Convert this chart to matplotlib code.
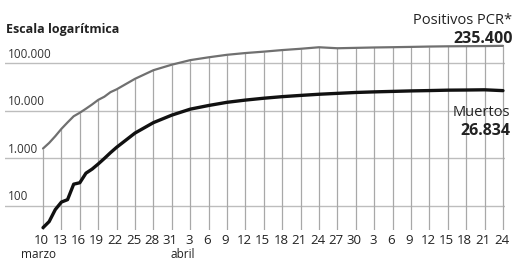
import numpy as np
import matplotlib.pyplot as plt

# days counted from 10 March
days = [0, 1, 2, 3, 4, 5, 6, 7, 8, 9, 10, 11, 12,
        15, 18, 21, 24, 27, 30, 33, 36, 39, 42, 45, 48,
        51, 54, 57, 60, 63, 66, 69, 72, 75]

positivos = [1622, 2128, 2950, 4209, 5753, 7753, 9191, 11178, 13716, 17147, 19980, 24926, 28572,
             47610, 72248, 94417, 117710, 135032, 152446, 166019, 177633, 191726, 204178, 219764, 209465,
             213435, 217466, 220325, 223578, 227436, 230183, 231606, 233037, 235400]

muertos = [35, 47, 84, 121, 136, 288, 309, 491, 598, 767, 1002, 1326, 1720,
           3434, 5690, 8189, 10935, 13055, 15238, 16972, 18579, 20043, 21282, 22524, 23521,
           24543, 25264, 25857, 26478, 26920, 27459, 27650, 27940, 26834]

tick_days = list(range(0, 76, 3))
tick_labels = ["10", "13", "16", "19", "22", "25", "28", "31",
               "3", "6", "9", "12", "15", "18", "21", "24", "27", "30",
               "3", "6", "9", "12", "15", "18", "21", "24"]

y_ticks = [100, 1000, 10000, 100000]
y_labels = ["100", "1.000", "10.000", "100.000"]

plt.rcParams["font.family"] = ["Open Sans", "DejaVu Sans"]

W, H = 516, 260
fig = plt.figure(figsize=(W / 100, H / 100), dpi=100)

# axes placed in pixel terms: x 5..505, y 35..230 from top
ax = fig.add_axes([5 / W, 30 / H, 500 / W, 195 / H])
ax.set_yscale("log")
ax.set_xlim(-6.2, 75.33)
ax.set_ylim(10 ** 1.4947, 10 ** 5.6)
for s in ax.spines.values():
    s.set_visible(False)
ax.set_xticks([])
ax.set_yticks([])
ax.minorticks_off()

# horizontal grid
for v, lab in zip(y_ticks, y_labels):
    ax.axhline(v, color="#bdbdbd", lw=1.0, zorder=1)
    ax.annotate(lab, xy=(-5.8, v), xytext=(0, 2), textcoords="offset points",
                ha="left", va="bottom", fontsize=8.5, color="#333333")

# vertical lines from the bottom up to the positivos curve
tops = 10 ** np.interp(tick_days, days, np.log10(positivos))
ax.vlines(tick_days, ax.get_ylim()[0], tops, color="#a8a8a8", lw=0.9, zorder=1)

ax.plot(days, positivos, color="#707070", lw=1.6, zorder=3, solid_capstyle="round")
ax.plot(days, muertos, color="#111111", lw=2.4, zorder=4, solid_capstyle="round")

# x tick labels
for d, lab in zip(tick_days, tick_labels):
    ax.annotate(lab, xy=(d, ax.get_ylim()[0]), xytext=(-1, -3), textcoords="offset points",
                ha="center", va="top", fontsize=9.5, color="#222222", annotation_clip=False)

fig.text(38 / W, 1 - 254 / H, "marzo", ha="center", va="center", fontsize=8.5, color="#222222")
fig.text(183 / W, 1 - 254 / H, "abril", ha="center", va="center", fontsize=8.5, color="#222222")

fig.text(6 / W, 1 - 30 / H, "Escala logarítmica", ha="left", va="center",
         fontsize=9, fontweight="bold", color="#222222")

fig.text(512 / W, 1 - 20 / H, "Positivos PCR*", ha="right", va="center", fontsize=10.5, color="#222222")
fig.text(513 / W, 1 - 39 / H, "235.400", ha="right", va="center", fontsize=11.5,
         fontweight="bold", color="#222222")
fig.text(510 / W, 1 - 113 / H, "Muertos", ha="right", va="center", fontsize=10.5, color="#222222")
fig.text(510 / W, 1 - 131 / H, "26.834", ha="right", va="center", fontsize=11.5,
         fontweight="bold", color="#222222")

fig.savefig("out.png", dpi=100, facecolor="white")
